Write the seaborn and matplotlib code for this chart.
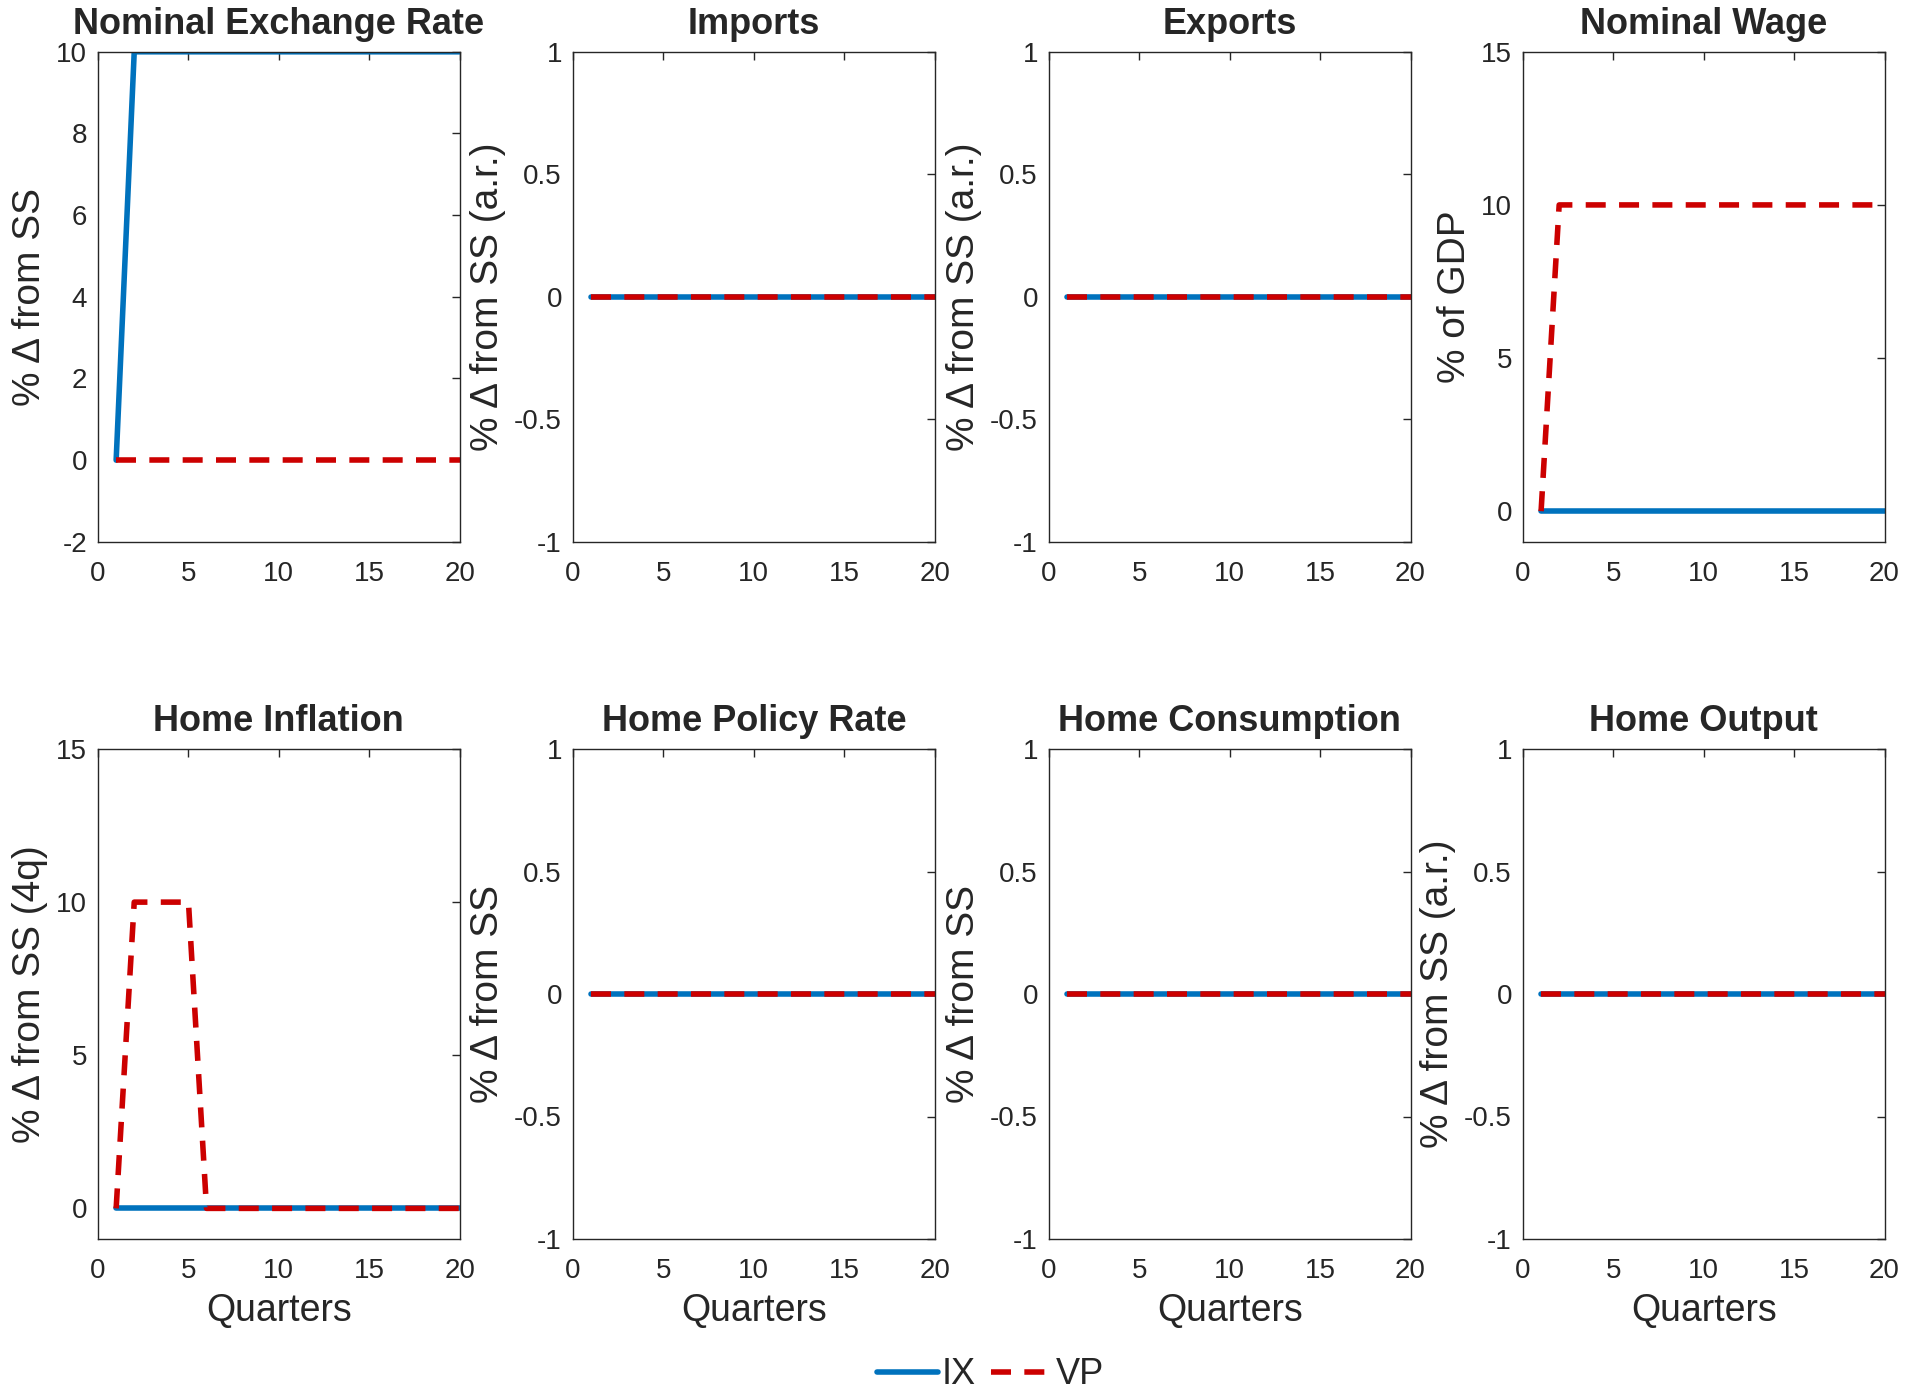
import numpy as np
import pandas as pd
import matplotlib
matplotlib.use("Agg")
import matplotlib.pyplot as plt
from matplotlib.lines import Line2D
import seaborn as sns

sns.set_style("white")
plt.rcParams['font.family'] = ['Liberation Sans', 'DejaVu Sans']

# data: 20 quarters, IX vs VP
quarters = np.arange(1, 21)
titles = ["Nominal Exchange Rate", "Imports", "Exports", "Nominal Wage",
          "Home Inflation", "Home Policy Rate", "Home Consumption", "Home Output"]
ylabels = ["% Δ from SS", "% Δ from SS (a.r.)", "% Δ from SS (a.r.)", "% of GDP",
           "% Δ from SS (4q)", "% Δ from SS", "% Δ from SS", "% Δ from SS (a.r.)"]

exch_ix = [0] + [10] * 19
exch_vp = [0] * 20
imports_ix = [0] * 20
imports_vp = [0] * 20
exports_ix = [0] * 20
exports_vp = [0] * 20
wage_ix = [0] * 20
wage_vp = [0] + [10] * 19
infl_ix = [0] * 20
infl_vp = [0, 10, 10, 10, 10] + [0] * 15
rate_ix = [0] * 20
rate_vp = [0] * 20
cons_ix = [0] * 20
cons_vp = [0] * 20
output_ix = [0] * 20
output_vp = [0] * 20

ix_series = [exch_ix, imports_ix, exports_ix, wage_ix, infl_ix, rate_ix, cons_ix, output_ix]
vp_series = [exch_vp, imports_vp, exports_vp, wage_vp, infl_vp, rate_vp, cons_vp, output_vp]

ylims = [(-2, 10), (-1, 1), (-1, 1), (-1, 15), (-1, 15), (-1, 1), (-1, 1), (-1, 1)]
yticks = [[-2, 0, 2, 4, 6, 8, 10], [-1, -0.5, 0, 0.5, 1], [-1, -0.5, 0, 0.5, 1],
          [0, 5, 10, 15], [0, 5, 10, 15], [-1, -0.5, 0, 0.5, 1],
          [-1, -0.5, 0, 0.5, 1], [-1, -0.5, 0, 0.5, 1]]
yticklabels = [["-2", "0", "2", "4", "6", "8", "10"], ["-1", "-0.5", "0", "0.5", "1"],
               ["-1", "-0.5", "0", "0.5", "1"], ["0", "5", "10", "15"], ["0", "5", "10", "15"],
               ["-1", "-0.5", "0", "0.5", "1"], ["-1", "-0.5", "0", "0.5", "1"],
               ["-1", "-0.5", "0", "0.5", "1"]]

blue = "#0072BD"
red = "#CC0000"
txt = "#262626"
dash = (0, (3.6, 2.4))

fig = plt.figure(figsize=(19.23, 14), dpi=100)
lefts = [0.051, 0.298, 0.5455, 0.792]
bottoms = [0.613, 0.115]
w, h = 0.188, 0.350

for k in range(8):
    r, c = divmod(k, 4)
    ax = fig.add_axes([lefts[c], bottoms[r], w, h])
    df = pd.DataFrame({"q": quarters, "IX": ix_series[k], "VP": vp_series[k]})
    sns.lineplot(data=df, x="q", y="IX", ax=ax, color=blue, linewidth=4)
    sns.lineplot(data=df, x="q", y="VP", ax=ax, color=red, linewidth=4, linestyle=dash)
    ax.set_xlim(0, 20)
    ax.set_ylim(*ylims[k])
    ax.set_xticks([0, 5, 10, 15, 20])
    ax.set_xticklabels(["0", "5", "10", "15", "20"])
    ax.set_yticks(yticks[k])
    ax.set_yticklabels(yticklabels[k])
    ax.tick_params(direction="in", top=True, right=True, length=6, width=1,
                   labelsize=20, colors=txt, labelcolor=txt)
    ax.tick_params(axis="x", pad=14)
    ax.tick_params(axis="y", pad=8)
    for s in ax.spines.values():
        s.set_visible(True)
        s.set_color(txt)
        s.set_linewidth(1)
    ax.set_title(titles[k], fontsize=26, fontweight="bold", pad=13)
    ax.set_ylabel(ylabels[k], fontsize=28, color=txt, labelpad=6)
    if r == 1:
        ax.set_xlabel("Quarters", fontsize=27, color=txt, labelpad=6)
    else:
        ax.set_xlabel("")

handles = [Line2D([], [], color=blue, linewidth=4),
           Line2D([], [], color=red, linewidth=4, linestyle=dash)]
fig.legend(handles, ["IX", "VP"], loc="lower center", bbox_to_anchor=(0.515, -0.010),
           ncol=2, frameon=False, fontsize=26, handlelength=1.7, handletextpad=0.1,
           columnspacing=0.4, borderpad=0.1)

fig.savefig("out.png", dpi=100)
